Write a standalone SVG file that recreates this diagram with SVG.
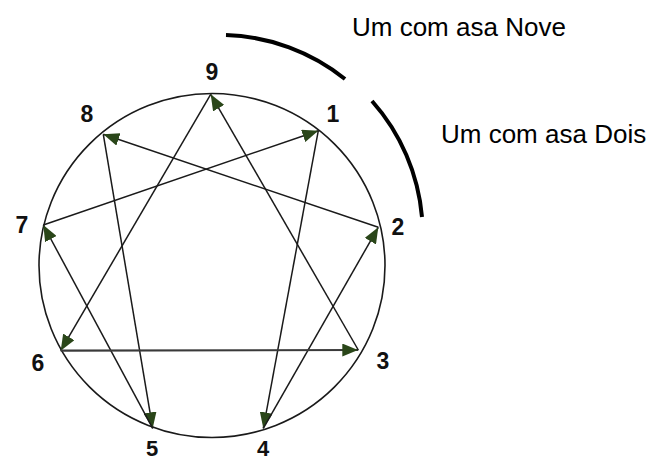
<svg xmlns="http://www.w3.org/2000/svg" width="651" height="461" viewBox="0 0 651 461">
<style>
.bg{fill:#ffffff}
.ring{fill:none;stroke:#1a1a1a;stroke-width:1.6}
.edge{fill:none;stroke:#1a1a1a;stroke-width:1.5;marker-end:url(#ah)}
.wing{fill:none;stroke:#000000;stroke-width:4}
.num{font-family:"Liberation Sans",Arial,sans-serif;font-weight:bold;font-size:23px;fill:#111111;text-anchor:middle}
.cap{font-family:"Liberation Sans",Arial,sans-serif;font-size:26px;fill:#000000}
</style>
<defs>
<marker id="ah" markerUnits="userSpaceOnUse" markerWidth="16" markerHeight="13" refX="16" refY="6.5" orient="auto">
<path d="M0,0 L16,6.5 L0,13 Z" fill="#2a4619"/>
</marker>
</defs>
<rect class="bg" x="0" y="0" width="651" height="461"/>
<ellipse class="ring" cx="212" cy="265.5" rx="173" ry="172"/>
<g id="connectors">
<line class="edge" x1="318.3" y1="130.7" x2="263.3" y2="428.3"/>
<line class="edge" x1="263.3" y1="428.3" x2="378.3" y2="227.3"/>
<line class="edge" x1="378.3" y1="227.3" x2="103.3" y2="134.3"/>
<line class="edge" x1="103.3" y1="134.3" x2="152.7" y2="428.3"/>
<line class="edge" x1="152.7" y1="428.3" x2="43.3" y2="225"/>
<line class="edge" x1="43.3" y1="225" x2="318.3" y2="130.7"/>
<line class="edge" x1="210.7" y1="94.3" x2="60.7" y2="350.7"/>
<line class="edge" x1="60.7" y1="350.7" x2="358.3" y2="350" style="stroke:#3a3a3a;stroke-width:2.2"/>
<line class="edge" x1="358.3" y1="350" x2="210.7" y2="94.3"/>
</g>
<g id="n9"><text class="num" x="212" y="80">9</text></g>
<g id="n1"><text class="num" x="333" y="122">1</text></g>
<g id="n2"><text class="num" x="398" y="235">2</text></g>
<g id="n3"><text class="num" x="383" y="369">3</text></g>
<g id="n4"><text class="num" x="263" y="456" style="font-size:22px">4</text></g>
<g id="n5"><text class="num" x="152" y="456" style="font-size:22px">5</text></g>
<g id="n6"><text class="num" x="38" y="371">6</text></g>
<g id="n7"><text class="num" x="22" y="233">7</text></g>
<g id="n8"><text class="num" x="87" y="122">8</text></g>
<g id="wings">
<path class="wing" d="M226,35 A201,201 0 0 1 345,79"/>
<path class="wing" d="M372,101 A201,201 0 0 1 422,217"/>
</g>
<g id="labels">
<text class="cap" x="352" y="36">Um com asa Nove</text>
<text class="cap" x="441" y="143">Um com asa Dois</text>
</g>
</svg>
